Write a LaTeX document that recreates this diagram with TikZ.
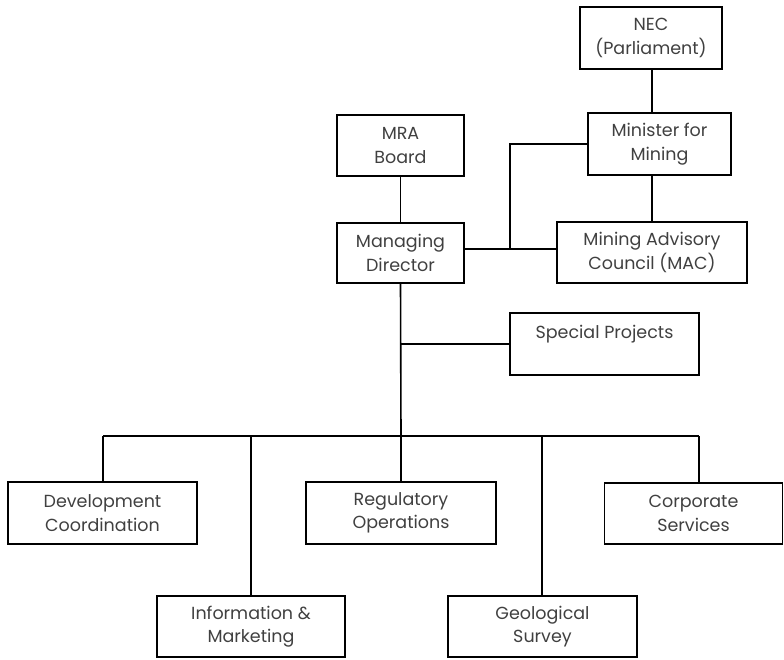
\documentclass[tikz,border=0pt]{standalone}
\usepackage{fontspec}
\setmainfont{Poppins}
\begin{document}
\begin{tikzpicture}[x=1pt,y=-1pt,
  box/.style={draw=black,line width=1.3pt,inner sep=0pt,align=center,text=black!75,font=\fontsize{17.5}{23.5}\selectfont},
  thickbox/.style={box,line width=2.2pt},
  conn/.style={draw=black,line width=1.6pt}]
\useasboundingbox (0,0) rectangle (784,659);
\node[thickbox,minimum width=142pt,minimum height=62pt] (nec) at (651,38) {NEC\\(Parliament)};
\node[thickbox,minimum width=143pt,minimum height=62pt] (min) at (659.5,144) {Minister for\\Mining};
\node[thickbox,minimum width=190pt,minimum height=61pt] (mac) at (652,252.5) {Mining Advisory\\Council (MAC)};
\node[box,minimum width=127pt,minimum height=61pt] (mra) at (400.5,145.5) {MRA\\Board};
\node[box,minimum width=127pt,minimum height=60pt] (md) at (400.5,253) {Managing\\Director};
\node[box,minimum width=189pt,minimum height=62pt] (sp) at (604.5,344) {Special Projects\\\phantom{X}};
\node[box,minimum width=189pt,minimum height=62pt] (dev) at (102.5,513) {Development\\Coordination};
\node[box,minimum width=190pt,minimum height=62pt] (reg) at (401,513) {Regulatory\\Operations};
\node[box,minimum width=178pt,minimum height=61pt] (corp) at (693.5,513.5) {Corporate\\Services};
\node[box,minimum width=188pt,minimum height=61pt] (info) at (251,626.5) {Information \&\\Marketing};
\node[box,minimum width=189pt,minimum height=61pt] (geo) at (542.5,626.5) {Geological\\Survey};
\coordinate (j) at (510,249);
\coordinate (b1) at (103,436);
\coordinate (b2) at (251,436);
\coordinate (b3) at (401,436);
\coordinate (b4) at (542,436);
\coordinate (b5) at (699,436);
\draw[conn] (nec.south -| mac.north) -- (min.north -| mac.north);
\draw[conn] (min.south -| mac.north) -- (mac.north);
\draw[conn] (mra.south) -- (md.north);
\draw[conn] (md.east |- j) -- (mac.west |- j);
\draw[conn] (j) |- (min.west);
\draw[conn] (md.south) -- (b3);
\draw[conn] (sp.west) -- (sp.west -| md.south);
\draw[conn] (b1) -- (b5);
\draw[conn] (b1) -- (b1 |- dev.north);
\draw[conn] (b2) -- (b2 |- info.north);
\draw[conn] (b3) -- (reg.north);
\draw[conn] (b4) -- (b4 |- geo.north);
\draw[conn] (b5) -- (b5 |- corp.north);
\end{tikzpicture}
\end{document}
